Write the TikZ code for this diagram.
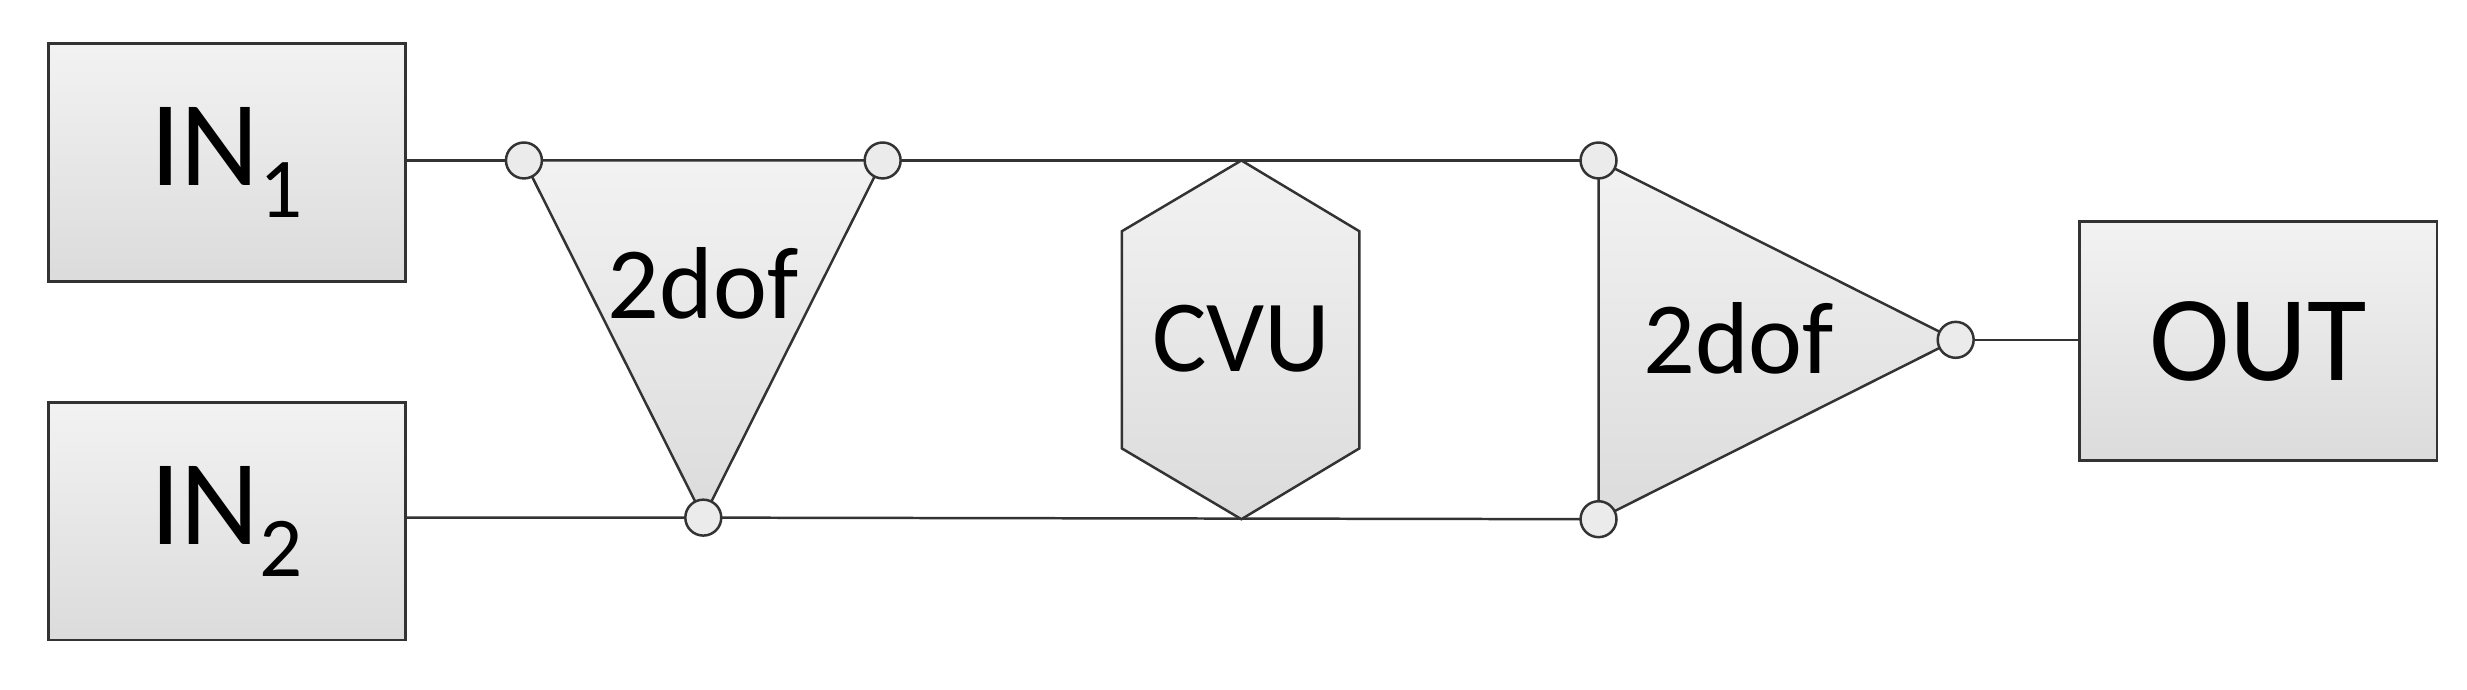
\documentclass[tikz,border=0pt]{standalone}
\usepackage{fontspec}
\setmainfont{Carlito}
\begin{document}
\begin{tikzpicture}[x=0.02cm,y=-0.02cm,
  ln/.style={draw=black!80,line width=0.9pt},
  shp/.style={ln,top color=black!5,bottom color=black!14},
  pin/.style={circle,draw=black!80,line width=0.9pt,fill=black!8,minimum size=13pt,inner sep=0pt},
  lbl/.style={font=\fontsize{37}{40}\selectfont},
  big/.style={font=\fontsize{44}{48}\selectfont}]
\useasboundingbox (0,0) rectangle (1568,438);
% boxes
\node[shp,rectangle,minimum width=227*0.02cm,minimum height=151*0.02cm,anchor=north west,big] (in1) at (30,27) {IN$_{\mathrm 1}$};
\node[shp,rectangle,minimum width=227*0.02cm,minimum height=151*0.02cm,anchor=north west,big] (in2) at (30,255) {IN$_{\mathrm 2}$};
\node[shp,rectangle,minimum width=227*0.02cm,minimum height=152*0.02cm,anchor=north west,big] (out) at (1321,140) {OUT};
% coordinates
\coordinate (a1) at (333,102);
\coordinate (a2) at (561,102);
\coordinate (a3) at (447,329);
\coordinate (b1) at (1016,102);
\coordinate (b2) at (1016,330);
\coordinate (b3) at (1243,216);
\coordinate (ht) at (789,102);
\coordinate (hb) at (789,330);
% connectors
\draw[ln] (in1.east |- a1) -- (a1);
\draw[ln] (a2) -- (b1);
\draw[ln] (in2.east |- a3) -- (a3) -- (b2);
\draw[ln] (b3) -- (out.west |- b3);
% triangles
\draw[shp] (a1) -- (a2) -- (a3) -- cycle;
\draw[shp] (b1) -- (b3) -- (b2) -- cycle;
% hexagon
\draw[shp] (ht) -- (864,147) -- (864,285) -- (hb) -- (713,285) -- (713,147) -- cycle;
% labels
\node[lbl] (t1) at (447,180) {2dof};
\node[lbl] (cvu) at (789,215) {CVU};
\node[lbl] (t2) at (1105,215) {2dof};
% pins
\foreach \p in {a1,a2,a3,b1,b2,b3} \node[pin] at (\p) {};
\end{tikzpicture}
\end{document}
